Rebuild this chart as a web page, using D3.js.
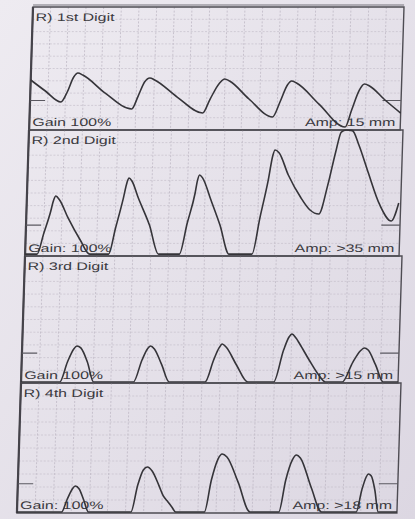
<!DOCTYPE html>
<html>
<head>
<meta charset="utf-8">
<script src="https://cdn.jsdelivr.net/npm/d3@7"></script>
<style>
  html, body { margin: 0; padding: 0; background: #e6e2ea; }
  svg { display: block; }
  text { font-family: "Liberation Sans", Arial, sans-serif; font-size: 11px; fill: #3a393e; }
</style>
</head>
<body>
<div id="chart"></div>
<script>
// labels printed in each strip
const digits = ["R) 1st Digit", "R) 2nd Digit", "R) 3rd Digit", "R) 4th Digit"];
const gains = ["Gain 100%", "Gain: 100%", "Gain 100%", "Gain: 100%"];
const amps = ["Amp: 15 mm", "Amp: >35 mm", "Amp: >15 mm", "Amp: >18 mm"];

// baseline reference mark of each strip (grid rows above bottom)
const refLevels = [2.4, 2.45, 2.35, 2.25];

// pulse waveforms: [time in grid columns, height in grid rows]
const digit1 = [
  [0, 4.07], [0.85, 3.17], [1.75, 2.28], [2.09, 3.09], [2.43, 4.31], [2.66, 4.63], [2.94, 4.47], [4.24, 3.0], [5.77, 1.71],
  [6.11, 2.76], [6.45, 3.90], [6.74, 4.23], [7.02, 4.07], [8.32, 2.68], [9.79, 1.38],
  [10.19, 2.52], [10.70, 3.82], [10.98, 4.15], [11.26, 3.98], [12.39, 2.52], [13.75, 1.06],
  [14.15, 2.28], [14.54, 3.66], [14.77, 3.98], [15.05, 3.82], [16.36, 2.11], [17.88, 0.24],
  [18.22, 1.63], [18.62, 3.25], [18.90, 3.74], [19.19, 3.58], [20.09, 2.44], [21.0, 1.38]
];
const digit2 = [
  [0, 0.15], [0.67, 0.15], [1.01, 1.79], [1.34, 3.41], [1.51, 4.44], [1.62, 4.76], [1.84, 4.45], [2.35, 3.02], [3.07, 1.27], [3.63, 0.15],
  [4.69, 0.15], [5.03, 2.2], [5.42, 4.6], [5.59, 5.8], [5.70, 6.19], [5.87, 5.95], [6.26, 4.6], [6.93, 2.46], [7.49, 0.15],
  [8.66, 0.15], [9.05, 2.62], [9.44, 5.0], [9.55, 6.0], [9.66, 6.43], [9.83, 6.2], [10.34, 4.44], [10.89, 2.46], [11.45, 0.15],
  [12.74, 0.15], [13.13, 3.1], [13.52, 6.0], [13.74, 8.0], [13.85, 8.41], [14.08, 8.2], [14.64, 6.43], [15.36, 4.68], [15.92, 3.65], [16.42, 3.33],
  [16.87, 5.6], [17.26, 8.25], [17.54, 9.84], [17.82, 10.0], [18.16, 9.95], [18.55, 8.81], [19.11, 6.67], [19.83, 4.05], [20.50, 2.78], [20.89, 4.21]
];
const digit3 = [
  [0, 0.08], [2.16, 0.08], [2.55, 1.65], [2.88, 2.68], [3.05, 2.91], [3.27, 2.76], [3.66, 1.65], [4.04, 0.08],
  [6.26, 0.08], [6.70, 1.81], [6.98, 2.68], [7.15, 2.91], [7.37, 2.68], [7.81, 1.42], [8.25, 0.08],
  [10.25, 0.08], [10.69, 1.81], [10.97, 2.76], [11.14, 3.07], [11.36, 2.83], [11.97, 1.42], [12.63, 0.08],
  [14.07, 0.08], [14.57, 2.60], [14.85, 3.62], [15.01, 3.86], [15.24, 3.54], [15.46, 3.07], [16.01, 1.81], [16.57, 0.63], [16.95, 0.08],
  [17.89, 0.08], [18.45, 1.65], [18.84, 2.52], [19.06, 2.76], [19.28, 2.60], [19.72, 1.42], [20.17, 0.08], [21, 0.08]
];
const digit4 = [
  [0, 0.08], [2.47, 0.08], [2.74, 1.0], [3.02, 1.85], [3.18, 2.08], [3.40, 1.85], [3.67, 1.0], [3.95, 0.08],
  [6.30, 0.08], [6.63, 2.15], [6.91, 3.31], [7.13, 3.54], [7.40, 3.23], [7.79, 2.15], [8.06, 1.31], [8.33, 0.85], [8.55, 0.46], [8.77, 0.08],
  [10.36, 0.08], [10.69, 2.54], [11.02, 4.15], [11.24, 4.54], [11.51, 4.31], [12.17, 2.38], [12.88, 0.08],
  [14.47, 0.08], [14.80, 2.54], [15.13, 4.08], [15.35, 4.46], [15.57, 4.23], [16.23, 1.92], [16.83, 0.08],
  [18.75, 0.08], [19.02, 1.77], [19.24, 2.77], [19.35, 3.0], [19.52, 2.85], [19.74, 1.77], [19.96, 0.08], [21, 0.08]
];
const traces = [digit1, digit2, digit3, digit4];

// strip geometry (the printout sits a little skewed in the photo)
const W = 415, H = 519;
const panelTop = [7, 130, 256, 383];
const panelBottom = [130, 256, 383, 513];
const panelLeft = [33, 29, 25, 21];
const panelRight = [404, 403, 402, 401];
const skew = -1.8;
const cols = 21, rows = 10;

const svg = d3.select("#chart").append("svg")
  .attr("width", W).attr("height", H);

const grad = svg.append("defs").append("linearGradient")
  .attr("id", "paper").attr("x1", 0).attr("y1", 0).attr("x2", 1).attr("y2", 1);
grad.append("stop").attr("offset", 0).attr("stop-color", "#eeebf1");
grad.append("stop").attr("offset", 1).attr("stop-color", "#dcd7e2");

svg.append("rect").attr("width", W).attr("height", H).attr("fill", "url(#paper)");

traces.forEach((data, i) => {
  const w = panelRight[i] - panelLeft[i];
  const h = panelBottom[i] - panelTop[i];
  const sx = d3.scaleLinear().domain([0, cols]).range([0, w]);
  const sy = d3.scaleLinear().domain([0, rows]).range([h, 0]);

  const g = svg.append("g")
    .attr("transform", `translate(${panelLeft[i]},${panelTop[i]}) skewX(${skew})`);

  // grid
  g.append("g").selectAll("line").data(d3.range(1, cols)).join("line")
    .attr("x1", d => sx(d)).attr("x2", d => sx(d))
    .attr("y1", 0).attr("y2", h)
    .attr("stroke", "#bfb9c6").attr("stroke-width", 0.8)
    .attr("stroke-dasharray", "2,1.6");
  g.append("g").selectAll("line").data(d3.range(1, rows)).join("line")
    .attr("x1", 0).attr("x2", w)
    .attr("y1", d => sy(d)).attr("y2", d => sy(d))
    .attr("stroke", "#c6c0cc").attr("stroke-width", 0.7)
    .attr("stroke-dasharray", "2,1.6");

  // frame
  g.append("rect").attr("width", w).attr("height", h)
    .attr("fill", "none").attr("stroke", "#4e4c53").attr("stroke-width", 1.4);
  g.append("line").attr("x1", 0).attr("x2", 0).attr("y1", 0).attr("y2", h)
    .attr("stroke", "#45434a").attr("stroke-width", 2.2);
  if (i === 0) {
    g.append("line").attr("x1", 0).attr("x2", w).attr("y1", -2).attr("y2", -2)
      .attr("stroke", "#77747c").attr("stroke-width", 1);
  }

  // reference marks at both ends
  g.append("g").selectAll("line").data([[0, 0.85], [cols - 1.05, cols]]).join("line")
    .attr("x1", d => sx(d[0])).attr("x2", d => sx(d[1]))
    .attr("y1", sy(refLevels[i])).attr("y2", sy(refLevels[i]))
    .attr("stroke", "#5a5860").attr("stroke-width", 1.1);

  // texts (printer font is wide)
  g.append("text").text(digits[i])
    .attr("transform", `translate(3,${14}) scale(1.45,1)`);
  g.append("text").text(gains[i])
    .attr("transform", `translate(3,${h - 4}) scale(1.45,1)`);
  g.append("text").text(amps[i])
    .attr("text-anchor", "end")
    .attr("transform", `translate(${w - 5},${h - 4}) scale(1.45,1)`);

  // waveform
  const line = d3.line()
    .x(d => sx(d[0]))
    .y(d => sy(d[1]))
    .curve(d3.curveMonotoneX);
  g.append("path").datum(data)
    .attr("d", line)
    .attr("fill", "none")
    .attr("stroke", "#353439")
    .attr("stroke-width", 1.6)
    .attr("stroke-linejoin", "round");
});
</script>
</body>
</html>
